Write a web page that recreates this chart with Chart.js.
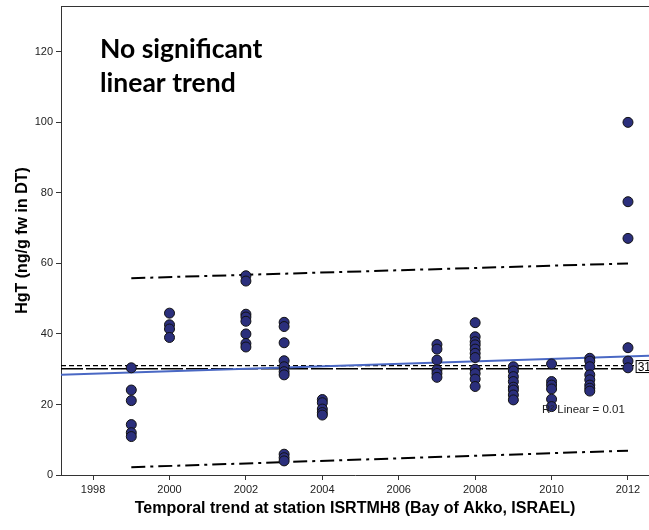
<!DOCTYPE html>
<html>
<head>
<meta charset="utf-8">
<script src="https://cdn.jsdelivr.net/npm/chart.js@4.4.1/dist/chart.umd.min.js"></script>
<style>
  html, body { margin: 0; padding: 0; background: #fff; overflow: hidden; }
</style>
</head>
<body>
<canvas id="c" width="649" height="530"></canvas>
<script>
// ---- data ----
const sampleYears = [
  1999, 1999, 1999, 1999, 1999, 1999,
  2000, 2000, 2000, 2000,
  2002, 2002, 2002, 2002, 2002, 2002, 2002, 2002,
  2003, 2003, 2003, 2003, 2003, 2003, 2003, 2003, 2003, 2003,
  2004, 2004, 2004, 2004, 2004,
  2007, 2007, 2007, 2007, 2007, 2007,
  2008, 2008, 2008, 2008, 2008, 2008, 2008, 2008, 2008, 2008, 2008,
  2009, 2009, 2009, 2009, 2009, 2009, 2009, 2009,
  2010, 2010, 2010, 2010, 2010, 2010,
  2011, 2011, 2011, 2011, 2011, 2011, 2011, 2011,
  2012, 2012, 2012, 2012, 2012, 2012
];
const hgtValues = [
  30.4, 24.1, 21.1, 14.3, 12.0, 10.9,
  45.9, 42.6, 41.4, 39.0,
  56.5, 55.0, 45.6, 44.8, 43.6, 40.0, 37.3, 36.3,
  43.3, 42.1, 37.5, 32.4, 30.7, 29.3, 28.4, 5.9, 4.9, 4.0,
  21.4, 20.5, 18.7, 17.7, 17.0,
  37.0, 35.7, 32.6, 29.8, 28.8, 27.7,
  43.2, 39.2, 37.8, 36.9, 35.7, 34.5, 33.3, 30.0, 28.8, 27.2, 25.1,
  30.7, 29.5, 27.9, 26.5, 24.9, 24.1, 22.7, 21.3,
  31.5, 26.5, 25.5, 24.4, 21.5, 19.4,
  33.1, 32.3, 30.7, 28.4, 27.0, 25.5, 24.6, 23.8,
  100.0, 77.5, 67.1, 36.1, 32.3, 30.4
];

const fitX    = [1997.16, 2012.55];
const fitY    = [28.4, 33.8];
const ciX     = [1999, 2012];
const upperCI = [55.8, 60.0];
const lowerCI = [2.2, 6.9];
const refX    = [1997.16, 2012.2];
const meanRef = [30.1, 30.1];
const dashRef = [31.0, 31.0];

const xTicks = [1998, 2000, 2002, 2004, 2006, 2008, 2010, 2012];
const yTicks = [0, 20, 40, 60, 80, 100, 120];

const headline = ['No significant', 'linear trend'];
const fitLabel = 'R\u00B2 Linear = 0.01';
const boxLabel = '31';

const pts = (xs, ys) => xs.map((v, i) => ({ x: v, y: ys[i] }));

// ---- extra drawing: top frame, headline, labels ----
const extras = {
  id: 'extras',
  afterDraw(chart) {
    const { ctx, chartArea: a, scales: { x, y } } = chart;
    ctx.save();
    ctx.strokeStyle = '#333';
    ctx.lineWidth = 1;
    ctx.beginPath();
    ctx.moveTo(a.left, a.top + 0.5);
    ctx.lineTo(a.right, a.top + 0.5);
    ctx.stroke();

    ctx.fillStyle = '#000';
    ctx.textAlign = 'left';
    ctx.textBaseline = 'alphabetic';
    ctx.font = 'bold 26.5px Lato';
    headline.forEach((t, i) => ctx.fillText(t, a.left + 39, 58 + i * 34));

    ctx.font = '11.5px "Liberation Sans"';
    ctx.fillStyle = '#222';
    ctx.fillText(fitLabel, x.getPixelForValue(2009.75), y.getPixelForValue(17.6));

    // boxed label at the right end of the reference lines
    const bx = x.getPixelForValue(2012.2), by = y.getPixelForValue(32.6);
    ctx.fillStyle = '#fff';
    ctx.fillRect(bx, by, 20, 12);
    ctx.strokeStyle = '#000';
    ctx.strokeRect(bx + 0.5, by + 0.5, 20, 12);
    ctx.fillStyle = '#000';
    ctx.font = '12px "Liberation Sans"';
    ctx.fillText(boxLabel, bx + 2, by + 11);
    ctx.restore();
  }
};

const tickFont = { family: '"Liberation Sans", Arial', size: 11 };

new Chart(document.getElementById('c'), {
  type: 'scatter',
  data: {
    datasets: [
      {
        data: pts(sampleYears, hgtValues),
        backgroundColor: '#2b2f7c',
        borderColor: '#111',
        borderWidth: 1,
        pointRadius: 5,
        order: 0
      },
      {
        data: pts(fitX, fitY), showLine: true, pointRadius: 0,
        borderColor: '#4a68c4', borderWidth: 2, order: 1
      },
      {
        data: pts(ciX, upperCI), showLine: true, pointRadius: 0,
        borderColor: '#000', borderWidth: 2, borderDash: [14, 5, 3, 5], order: 2
      },
      {
        data: pts(ciX, lowerCI), showLine: true, pointRadius: 0,
        borderColor: '#000', borderWidth: 2, borderDash: [14, 5, 3, 5], order: 2
      },
      {
        data: pts(refX, meanRef), showLine: true, pointRadius: 0,
        borderColor: '#000', borderWidth: 1.5, borderDash: [22, 3], order: 3
      },
      {
        data: pts(refX, dashRef), showLine: true, pointRadius: 0,
        borderColor: '#000', borderWidth: 1.3, borderDash: [5, 3], order: 3
      }
    ]
  },
  options: {
    responsive: false,
    animation: false,
    layout: { autoPadding: false, padding: { left: 0, right: 0, top: 6, bottom: 0 } },
    plugins: { legend: { display: false }, tooltip: { enabled: false } },
    scales: {
      x: {
        type: 'linear',
        min: 1997.16,
        max: 2012.55,
        afterBuildTicks: s => { s.ticks = xTicks.map(v => ({ value: v })); },
        afterFit: s => { s.height = 55; s.paddingLeft = 0; s.paddingRight = 0; },
        ticks: { color: '#222', font: tickFont, padding: 3, maxRotation: 0, callback: v => String(v) },
        grid: { drawOnChartArea: false, drawTicks: true, tickLength: 5, color: '#333' },
        border: { display: true, color: '#333', width: 1 },
        title: {
          display: true,
          text: 'Temporal trend at station ISRTMH8 (Bay of Akko, ISRAEL)',
          color: '#000',
          font: { family: '"Liberation Sans", Arial', size: 16, weight: 'bold' },
          padding: { top: 0, bottom: 12 }
        }
      },
      y: {
        min: 0,
        max: 133,
        afterBuildTicks: s => { s.ticks = yTicks.map(v => ({ value: v })); },
        afterFit: s => { s.width = 61; s.paddingTop = 0; s.paddingBottom = 0; },
        ticks: { color: '#222', font: tickFont, padding: 3 },
        grid: { drawOnChartArea: false, drawTicks: true, tickLength: 5, color: '#333' },
        border: { display: true, color: '#333', width: 1 },
        title: {
          display: true,
          text: 'HgT (ng/g fw in DT)',
          color: '#000',
          font: { family: '"Liberation Sans", Arial', size: 16, weight: 'bold' },
          padding: { top: 13, bottom: 0 }
        }
      }
    }
  },
  plugins: [extras]
});
</script>
</body>
</html>
